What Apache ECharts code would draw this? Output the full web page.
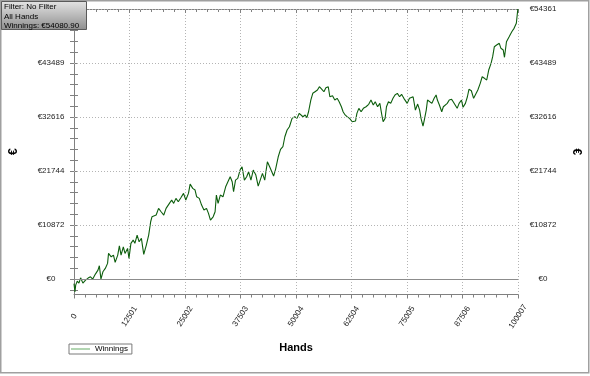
<!DOCTYPE html>
<html>
<head>
<meta charset="utf-8">
<script src="https://cdn.jsdelivr.net/npm/echarts@6/dist/echarts.min.js"></script>
<style>
  html, body { margin: 0; padding: 0; background: #fff; }
  #chart { width: 590px; height: 376px; }
</style>
</head>
<body>
<div id="chart"></div>
<script>
// 赢利曲线 - [hands, winnings]
const winningsPoints = [
  [0, -900], [220, -2560], [380, -1210], [730, -400], [1110, -810], [1490, 260], [2000, -810],
  [2600, -200], [3180, 200], [3710, 460], [4220, 0], [4820, 1010], [5400, 1810], [5710, 2680],
  [6070, 0], [6510, 1470], [7050, 2150], [7560, 3160], [7780, 5170], [8380, 4490], [8890, 4830],
  [9270, 3360], [9850, 4830], [10220, 6700], [10600, 4830], [11110, 6500], [11490, 5170],
  [12070, 6180], [12380, 4170], [12820, 7190], [13330, 7850], [13710, 7190], [14220, 8860],
  [14670, 7510], [15180, 8190], [15710, 4970], [16290, 6850], [16820, 8860], [17270, 11540],
  [17560, 12540], [18000, 12340], [18510, 12890], [19050, 14230], [19620, 13550], [20220, 12890],
  [20740, 14230], [21490, 15240], [22000, 15910], [22450, 15240], [22960, 16250], [23490, 15560],
  [24070, 16370], [24670, 17250], [25180, 15910],
  [25780, 17250], [26160, 19130], [26740, 18260], [27270, 17920], [27630, 16570], [28220, 16250],
  [28740, 14900], [29270, 13890], [29850, 14230], [30290, 13230], [30740, 11880], [31340, 12540],
  [31780, 13550], [32070, 16910], [32450, 15240], [32960, 16910], [33560, 16570], [34160, 18580],
  [34670, 19590], [35180, 20600], [35630, 19590], [35940, 17580], [36380, 19930], [36890, 20270],
  [37400, 21950], [37850, 22610], [38380, 19930], [38890, 20600], [39340, 21600], [39850, 19930],
  [40380, 21950], [40960, 20940], [41490, 18720], [41940, 19930], [42450, 21280], [42960, 19930],
  [43560, 23620], [44070, 22610], [44520, 22950], [44960, 20740], [45400, 22090], [46000, 24620],
  [46520, 26110], [47050, 26640], [47490, 28650], [48000, 30000], [48520, 30660], [49120, 32350],
  [49720, 32680], [50230, 32350], [50740, 33360],
  [51560, 32680], [52070, 33020], [52450, 32480], [52830, 33680], [53340, 36040], [53780, 37390],
  [54290, 37710], [54830, 38050], [55270, 38720], [55780, 38250], [56290, 37710], [56740, 38510],
  [57270, 38720], [57630, 36700], [58230, 36900], [58740, 36040], [59270, 36380], [59720, 35700],
  [60230, 34690], [60610, 33680], [60960, 33160], [61490, 32680], [62070, 32350], [62670, 31670],
  [62960, 31350], [63410, 31810], [63720, 33360], [64160, 34370], [64670, 33680], [65180, 34370],
  [65780, 34690], [66380, 35170], [66890, 36040], [67410, 35030], [67850, 35700], [68380, 34690],
  [68890, 35370], [69340, 33020], [69630, 31670], [70070, 32350], [70380, 34690], [70830, 35700],
  [71340, 35370], [71850, 36380], [72300, 37050], [72830, 37390], [73340, 36700], [73780, 37190],
  [74300, 36380],
  [74670, 36380], [75050, 35370], [75560, 36380], [76010, 36040], [76380, 36700], [76900, 34020],
  [77410, 35230], [77850, 34020], [78160, 32350], [78610, 30800], [78900, 32010], [79340, 34020],
  [79630, 36040], [80070, 36380], [80610, 35370], [81120, 36380], [81560, 37050], [81850, 36040],
  [82300, 35030], [82830, 33680], [83190, 34690], [83560, 35030], [84070, 35370], [84520, 36040],
  [85050, 36180], [85410, 35700], [85790, 36040], [86300, 34370], [86740, 35370], [87280, 36040],
  [87630, 34570], [88160, 35370], [88610, 36700], [88960, 38190], [89500, 37910], [90010, 36380],
  [90450, 36700], [90960, 38050], [91500, 39400], [91940, 40730], [92450, 40410], [92960, 40070],
  [93410, 42080], [93940, 43430], [94300, 44760], [94680, 46770], [95190, 47110], [95790, 47450],
  [96160, 46450], [96680, 46110], [96960, 44640], [97410, 47780], [98010, 48780], [98610, 49790],
  [99120, 50470], [99630, 51480], [99900, 53760], [99960, 54361], [100007, 54081]
]
// 坐标轴刻度
const handLabels = ['0', '12501', '25002', '37503', '50004', '62504', '75005', '87506', '100007']
const euroTicks = [0, 10872, 21744, 32616, 43489, 54361]
const infoLines = ['Filter: No Filter', 'All Hands', 'Winnings: €54080.90']

const xMax = 100007
const yMin = -3100
const yMax = 54361
const font = '"Liberation Sans", Arial, sans-serif'
const axisGray = '#808080'

// 次刻度: 每个主刻度之间 4 个
const minorStep = (euroTicks[1] - euroTicks[0]) / 5
const yTickValues = [euroTicks[0] - minorStep]
euroTicks.forEach((v, i) => {
  yTickValues.push(v)
  if (i < euroTicks.length - 1) {
    const step = (euroTicks[i + 1] - v) / 5
    for (let k = 1; k < 5; k++) yTickValues.push(v + step * k)
  }
})

function yAxisOf(side) {
  const left = side === 'left'
  return {
    type: 'value',
    position: side,
    min: yMin,
    max: yMax,
    name: '€',
    nameLocation: 'middle',
    nameGap: left ? 54 : 52,
    nameRotate: left ? 90 : -90,
    nameTextStyle: { fontFamily: font, fontWeight: 'bold', fontSize: 12, color: '#000' },
    axisLine: { show: true, lineStyle: { color: axisGray } },
    axisTick: { show: true, length: 4, customValues: yTickValues, lineStyle: { color: axisGray } },
    axisLabel: {
      customValues: euroTicks,
      formatter: v => '€' + v,
      align: 'center',
      margin: left ? 23 : 25,
      fontFamily: font,
      fontSize: 8,
      color: '#222'
    },
    splitLine: { show: false }
  }
}

const chart = echarts.init(document.getElementById('chart'), null, { renderer: 'canvas' })
chart.setOption({
  animation: false,
  backgroundColor: '#fff',
  grid: { left: 69, right: 71, top: 9, bottom: 81.5, containLabel: false },
  legend: {
    left: 69,
    top: 344,
    padding: [1, 4, 1, 2],
    borderColor: '#7a7a7a',
    borderWidth: 1,
    itemWidth: 19,
    itemHeight: 8,
    itemGap: 0,
    icon: 'path://M0,0 L20,0 L20,1 L0,1 Z',
    itemStyle: { color: '#5ea65e' },
    textStyle: { fontFamily: font, fontSize: 8, color: '#000' },
    data: ['Winnings']
  },
  xAxis: [
    {
      type: 'value',
      position: 'bottom',
      min: 0,
      max: xMax,
      interval: xMax / 8,
      name: 'Hands',
      nameLocation: 'middle',
      nameGap: 48,
      nameTextStyle: { fontFamily: font, fontWeight: 'bold', fontSize: 11, color: '#000' },
      axisLine: { show: true, onZero: false, lineStyle: { color: axisGray } },
      axisTick: { show: true, length: 4, lineStyle: { color: axisGray } },
      minorTick: { show: true, splitNumber: 5, length: 3, lineStyle: { color: axisGray } },
      axisLabel: {
        rotate: 57,
        align: 'center',
        verticalAlign: 'middle',
        margin: 22,
        fontFamily: font,
        fontSize: 8,
        color: '#222',
        formatter: (v, i) => handLabels[i]
      },
      splitLine: { show: true, lineStyle: { type: [1, 2], color: '#b4b4b4' } }
    },
    {
      type: 'value',
      position: 'top',
      min: 0,
      max: xMax,
      interval: xMax / 8,
      axisLine: { show: true, onZero: false, lineStyle: { color: axisGray } },
      axisTick: { show: true, inside: true, length: 4, lineStyle: { color: axisGray } },
      minorTick: { show: true, splitNumber: 5, length: 3, lineStyle: { color: axisGray } },
      axisLabel: { show: false },
      splitLine: { show: false }
    }
  ],
  yAxis: [yAxisOf('left'), yAxisOf('right')],
  graphic: [
    {
      type: 'rect',
      shape: { x: 0.75, y: 0.75, width: 588, height: 372 },
      style: { fill: 'none', stroke: '#a0a0a0', lineWidth: 1.5 },
      silent: true,
      z: 100
    },
    {
      type: 'group',
      left: 1,
      top: 1,
      z: 100,
      children: [
        {
          type: 'rect',
          z: 100,
          shape: { x: 0.5, y: 0.5, width: 85, height: 28 },
          style: {
            fill: new echarts.graphic.LinearGradient(0, 0, 0, 1, [
              { offset: 0, color: '#e4e4e4' },
              { offset: 1, color: '#8e8e8e' }
            ]),
            stroke: '#5a5a5a',
            lineWidth: 1
          }
        },
        {
          type: 'text',
          z: 101,
          x: 3,
          y: 1.5,
          style: { text: infoLines.join('\n'), font: '8px ' + font, lineHeight: 9.5, fill: '#000' }
        }
      ]
    }
  ],
  series: [
    {
      name: 'Winnings',
      type: 'line',
      data: winningsPoints,
      symbol: 'none',
      lineStyle: { color: '#0d5e0d', width: 1.1 },
      itemStyle: { color: '#0d5e0d' },
      markLine: {
        silent: true,
        symbol: 'none',
        label: { show: false },
        data: euroTicks.map(v => ({
          yAxis: v,
          lineStyle: v === 0
            ? { type: 'solid', color: '#8c8c8c', width: 1 }
            : { type: [1, 2], color: '#b4b4b4', width: 1 }
        }))
      }
    }
  ]
})
</script>
</body>
</html>
